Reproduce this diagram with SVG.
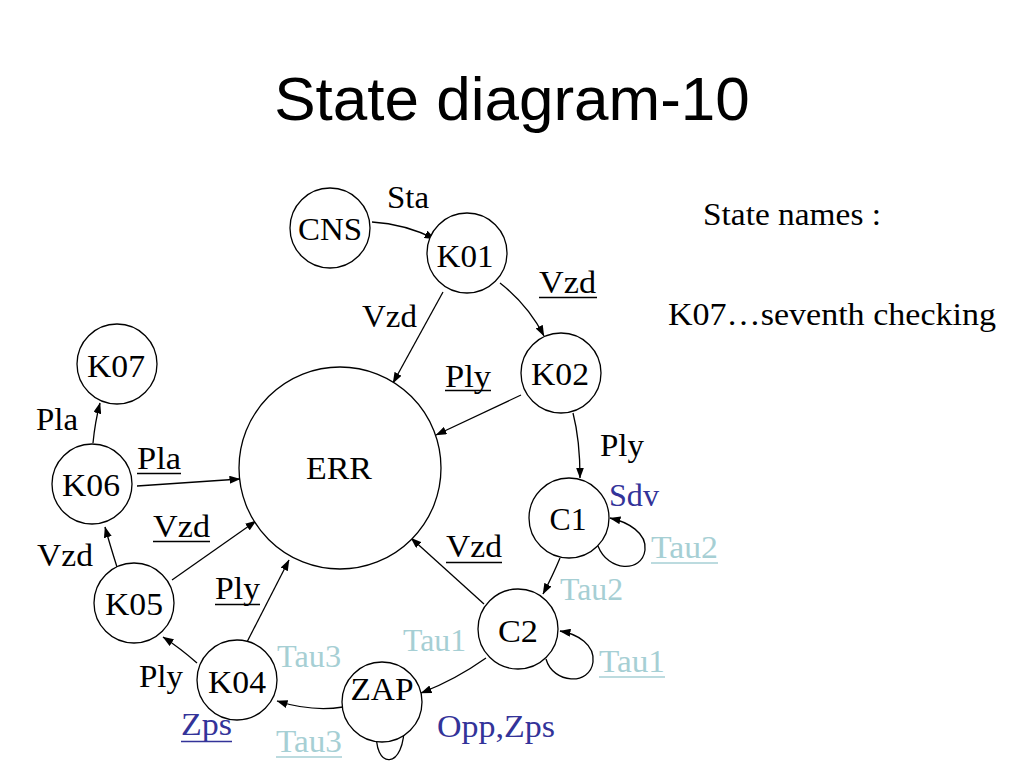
<svg xmlns="http://www.w3.org/2000/svg" width="1024" height="768" viewBox="0 0 1024 768">
<defs>
<marker id="arr" markerUnits="userSpaceOnUse" markerWidth="11" markerHeight="8" refX="10.5" refY="4" orient="auto">
<path d="M0,0 L11,4 L0,8 z" fill="#000"/>
</marker>
</defs>
<style>
.node circle{fill:#fff;stroke:#000;stroke-width:1.3}
.node text{font-family:"Liberation Serif","Times New Roman",serif;font-size:32px;fill:#000;text-anchor:middle}
.lbl{font-family:"Liberation Serif","Times New Roman",serif;font-size:32px}
.k{fill:#000}
.b{fill:#333399}
.t{fill:#a6cfd4}
.ul{stroke-width:1.5}
.ulk{stroke:#000}
.ulb{stroke:#333399}
.ult{stroke:#a6cfd4}
#edges path{fill:none;stroke:#000;stroke-width:1.3;marker-end:url(#arr)}
</style>
<rect width="1024" height="768" fill="#fff"/>
<text x="512" y="120" text-anchor="middle" font-family="Liberation Sans, Arial, sans-serif" font-size="62" fill="#000">State diagram-10</text>
<text x="703" y="225" font-family="Liberation Serif, Times New Roman, serif" font-size="32" textLength="178" lengthAdjust="spacingAndGlyphs" fill="#000">State names :</text>
<text x="668" y="325" font-family="Liberation Serif, Times New Roman, serif" font-size="32" textLength="328" lengthAdjust="spacingAndGlyphs" fill="#000">K07…seventh checking</text>

<g id="edges">
<path d="M372,222 Q405,224 435,239"/>
<path d="M443,292 L393,383"/>
<path d="M500,283 Q528,305 544,336"/>
<path d="M521,395 L436,435"/>
<path d="M573,413 Q580,440 580,478"/>
<path d="M598,546 C608,572 642,573 645,550 C647,533 628,522 610,518"/>
<path d="M560,558 Q553,575 543,594"/>
<path d="M484,604 L411,538"/>
<path d="M546,659 C553,684 590,686 593,662 C595,645 578,634 560,631"/>
<path d="M486,658 Q455,680 421,693"/>
<path d="M343,707 Q312,712 277,701"/>
<path d="M377,729 C372,770 406,772 404,722"/>
<path d="M247,642 L289,560"/>
<path d="M197,663 Q180,648 163,637"/>
<path d="M172,580 L256,521"/>
<path d="M117,567 Q110,545 105,527"/>
<path d="M137,486 L240,479"/>
<path d="M93,443 Q95,422 100,403"/>
</g>

<g id="node-CNS" class="node"><circle cx="330" cy="228" r="40"/><text x="330" y="240" textLength="64" lengthAdjust="spacingAndGlyphs">CNS</text></g>
<g id="node-K01" class="node"><circle cx="467" cy="253" r="40"/><text x="465" y="267" textLength="57" lengthAdjust="spacingAndGlyphs">K01</text></g>
<g id="node-K02" class="node"><circle cx="561" cy="373" r="40"/><text x="560" y="385" textLength="58" lengthAdjust="spacingAndGlyphs">K02</text></g>
<g id="node-ERR" class="node"><circle cx="340" cy="468" r="101"/><text x="339" y="479" textLength="66" lengthAdjust="spacingAndGlyphs">ERR</text></g>
<g id="node-C1" class="node"><circle cx="569" cy="518" r="40"/><text x="568" y="530" textLength="37" lengthAdjust="spacingAndGlyphs">C1</text></g>
<g id="node-C2" class="node"><circle cx="518" cy="629" r="40"/><text x="518" y="642" textLength="40" lengthAdjust="spacingAndGlyphs">C2</text></g>
<g id="node-ZAP" class="node"><circle cx="382" cy="702" r="40"/><text x="382" y="700" textLength="63" lengthAdjust="spacingAndGlyphs">ZAP</text></g>
<g id="node-K04" class="node"><circle cx="237" cy="680" r="40"/><text x="237" y="693" textLength="58" lengthAdjust="spacingAndGlyphs">K04</text></g>
<g id="node-K05" class="node"><circle cx="134" cy="603" r="40"/><text x="134" y="615" textLength="58" lengthAdjust="spacingAndGlyphs">K05</text></g>
<g id="node-K06" class="node"><circle cx="92" cy="484" r="40"/><text x="91" y="496" textLength="58" lengthAdjust="spacingAndGlyphs">K06</text></g>
<g id="node-K07" class="node"><circle cx="117" cy="364" r="40"/><text x="116" y="377" textLength="58" lengthAdjust="spacingAndGlyphs">K07</text></g>

<g id="labels">
<text class="lbl k" x="387" y="208" textLength="42" lengthAdjust="spacingAndGlyphs">Sta</text>
<text class="lbl k" x="539" y="293" textLength="57" lengthAdjust="spacingAndGlyphs">Vzd</text>
<line class="ul ulk" x1="539" y1="297.5" x2="597" y2="297.5"/>
<text class="lbl k" x="362" y="327" textLength="55" lengthAdjust="spacingAndGlyphs">Vzd</text>
<text class="lbl k" x="445" y="387" textLength="46" lengthAdjust="spacingAndGlyphs">Ply</text>
<line class="ul ulk" x1="445" y1="390.5" x2="491" y2="390.5"/>
<text class="lbl k" x="600" y="456" textLength="44" lengthAdjust="spacingAndGlyphs">Ply</text>
<text class="lbl b" x="609" y="506" textLength="50" lengthAdjust="spacingAndGlyphs">Sdv</text>
<text class="lbl t" x="651" y="558" textLength="67" lengthAdjust="spacingAndGlyphs">Tau2</text>
<line class="ul ult" x1="651" y1="563" x2="718" y2="563"/>
<text class="lbl t" x="560" y="600" textLength="63" lengthAdjust="spacingAndGlyphs">Tau2</text>
<text class="lbl k" x="446" y="557" textLength="56" lengthAdjust="spacingAndGlyphs">Vzd</text>
<line class="ul ulk" x1="446" y1="562.5" x2="502" y2="562.5"/>
<text class="lbl t" x="403" y="651" textLength="63" lengthAdjust="spacingAndGlyphs">Tau1</text>
<text class="lbl t" x="599" y="672" textLength="66" lengthAdjust="spacingAndGlyphs">Tau1</text>
<line class="ul ult" x1="599" y1="677" x2="665" y2="677"/>
<text class="lbl b" x="437" y="737" textLength="118" lengthAdjust="spacingAndGlyphs">Opp,Zps</text>
<text class="lbl t" x="277" y="667" textLength="64" lengthAdjust="spacingAndGlyphs">Tau3</text>
<text class="lbl t" x="276" y="752" textLength="66" lengthAdjust="spacingAndGlyphs">Tau3</text>
<line class="ul ult" x1="276" y1="757" x2="342" y2="757"/>
<text class="lbl b" x="181" y="735" textLength="51" lengthAdjust="spacingAndGlyphs">Zps</text>
<line class="ul ulb" x1="181" y1="741.5" x2="232" y2="741.5"/>
<text class="lbl k" x="139" y="687" textLength="44" lengthAdjust="spacingAndGlyphs">Ply</text>
<text class="lbl k" x="215" y="599" textLength="45" lengthAdjust="spacingAndGlyphs">Ply</text>
<line class="ul ulk" x1="215" y1="604.5" x2="260" y2="604.5"/>
<text class="lbl k" x="37" y="566" textLength="56" lengthAdjust="spacingAndGlyphs">Vzd</text>
<text class="lbl k" x="153" y="537" textLength="57" lengthAdjust="spacingAndGlyphs">Vzd</text>
<line class="ul ulk" x1="153" y1="541.5" x2="210" y2="541.5"/>
<text class="lbl k" x="137" y="469" textLength="44" lengthAdjust="spacingAndGlyphs">Pla</text>
<line class="ul ulk" x1="137" y1="473.5" x2="181" y2="473.5"/>
<text class="lbl k" x="36" y="430" textLength="42" lengthAdjust="spacingAndGlyphs">Pla</text>
</g>
</svg>
